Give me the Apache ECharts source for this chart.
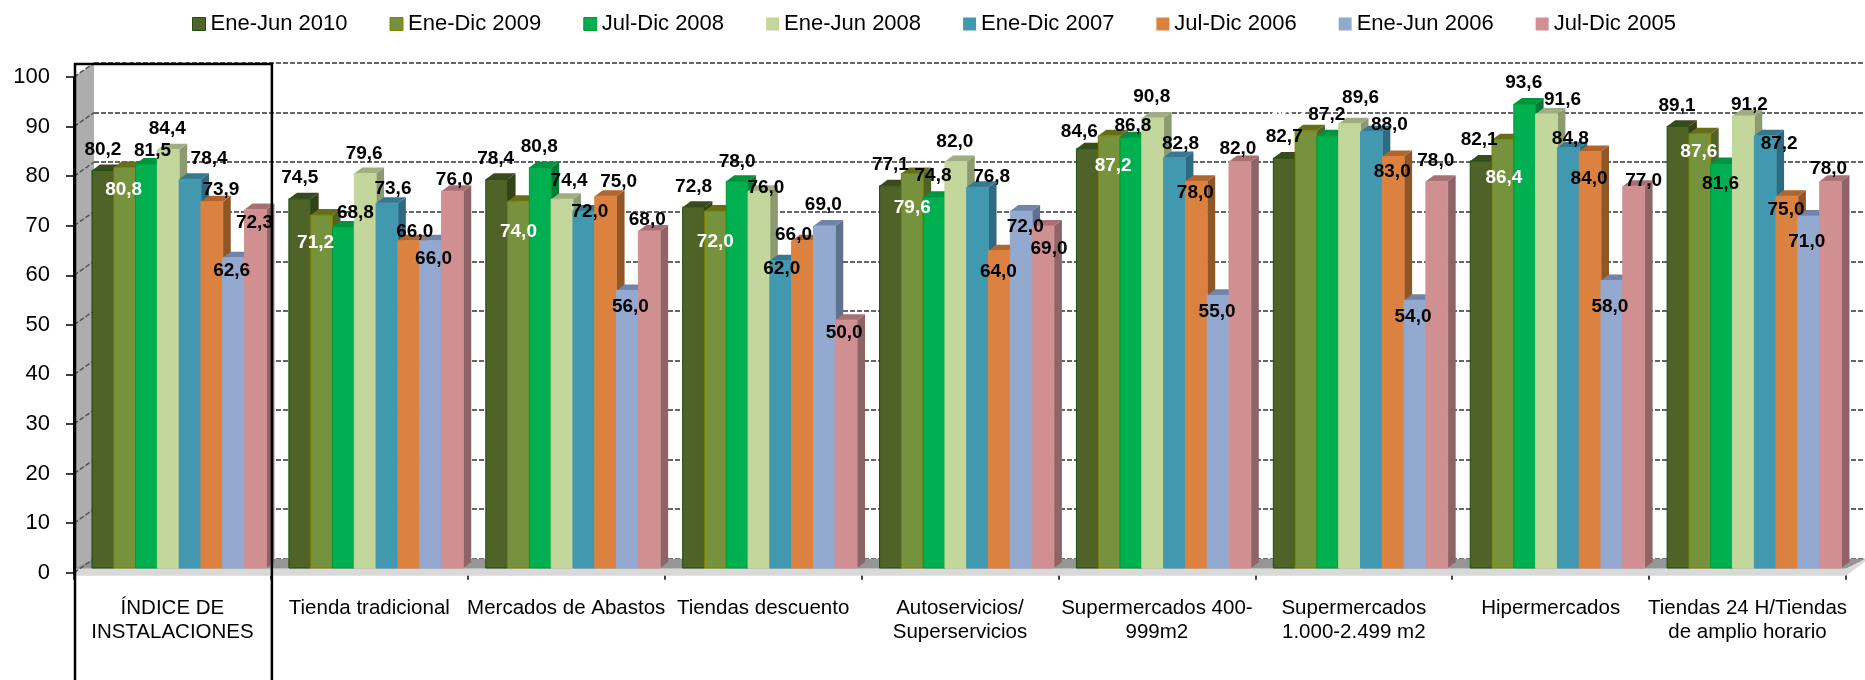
<!DOCTYPE html>
<html>
<head>
<meta charset="utf-8">
<title>Indice de instalaciones</title>
<script src="https://cdn.jsdelivr.net/npm/echarts@6/dist/echarts.min.js"></script>
<style>
  html, body { margin: 0; padding: 0; background: #fff; }
  #chart { width: 1865px; height: 680px; }
</style>
</head>
<body>
<div id="chart"></div>
<script>
const categories = [
  'ÍNDICE DE\nINSTALACIONES', 'Tienda tradicional', 'Mercados de Abastos', 'Tiendas descuento',
  'Autoservicios/\nSuperservicios', 'Supermercados 400-\n999m2', 'Supermercados\n1.000-2.499 m2',
  'Hipermercados', 'Tiendas 24 H/Tiendas\nde amplio horario'
]
const yTicks = [0, 10, 20, 30, 40, 50, 60, 70, 80, 90, 100]
const seriesNames = ['Ene-Jun 2010', 'Ene-Dic 2009', 'Jul-Dic 2008', 'Ene-Jun 2008', 'Ene-Dic 2007', 'Jul-Dic 2006', 'Ene-Jun 2006', 'Jul-Dic 2005']

const eneJun2010 = [80.2, 74.5, 78.4, 72.8, 77.1, 84.6, 82.7, 82.1, 89.1]
const eneDic2009 = [80.8, 71.2, 74.0, 72.0, 79.6, 87.2, 88.2, 86.4, 87.6]
const julDic2008 = [81.5, 68.8, 80.8, 78.0, 74.8, 86.8, 87.2, 93.6, 81.6]
const eneJun2008 = [84.4, 79.6, 74.4, 76.0, 82.0, 90.8, 89.6, 91.6, 91.2]
const eneDic2007 = [78.4, 73.6, 72.0, 62.0, 76.8, 82.8, 88.0, 84.8, 87.2]
const julDic2006 = [73.9, 66.0, 75.0, 66.0, 64.0, 78.0, 83.0, 84.0, 75.0]
const eneJun2006 = [62.6, 66.0, 56.0, 69.0, 72.0, 55.0, 54.0, 58.0, 71.0]
const julDic2005 = [72.3, 76.0, 68.0, 50.0, 69.0, 82.0, 78.0, 77.0, 78.0]
const allValues = [eneJun2010, eneDic2009, julDic2008, eneJun2008, eneDic2007, julDic2006, eneJun2006, julDic2005]

// estilo de cada serie: frente, lateral, tapa, borde
const fills = ['#4f6228', '#76923c', '#00b050', '#c3d69b', '#4198af', '#dc8240', '#93a9cf', '#d09092']
const sides = ['#34421a', '#4f6228', '#007a38', '#8b9a70', '#2f6a80', '#8f5628', '#5f7090', '#8f6467']
const tops = ['#3b4a1e', '#666f18', '#009440', '#a0ad82', '#35788f', '#b0652e', '#7184a8', '#a87074']
const borders = ['#1d4d0e', '#808000', '#009a30', '#c3d69b', '#4198af', '#dc8240', '#93a9cf', '#d09092']

// desplazamiento de cada etiqueta respecto al centro superior de su barra [dx, dy], por categoria
const labelShift = [
  [[0, -21], [-1, 22], [6, -13], [-1, -21], [19, -21], [9, -12], [-2, 13], [-1, 13]],
  [[0, -21], [-6, 28], [12, -14], [-1, -20], [6, -14], [6, -9], [3, 18], [2, -12]],
  [[-1, -21], [0, 31], [-1, -21], [7, -18], [6, 1], [13, -14], [3, 16], [-2, -11]],
  [[0, -20], [0, 31], [0, -20], [7, -4], [1, 8], [-9, -6], [-1, -21], [-2, 13]],
  [[0, -21], [0, 34], [-1, -21], [-1, -20], [14, -11], [-1, 21], [4, 16], [6, 23]],
  [[-8, -17], [4, 30], [2, -12], [-1, -21], [6, -14], [-1, 11], [-1, 16], [-2, -13]],
  [[0, -21], [-16, -18], [-1, -21], [11, -26], [18, -7], [-1, 15], [-2, 16], [-1, -21]],
  [[-2, -21], [1, 38], [-1, -21], [16, -14], [2, -9], [-1, 27], [-2, 26], [10, -6]],
  [[-1, -21], [-1, 18], [-1, 20], [6, -11], [14, 8], [-1, 14], [-2, 26], [-2, -13]]
]

const barFrac = 0.1107
const startFrac = -0.4086
const baseLift = 4.7
const depthX = 8
const depthY = 6

function barBox (api, cat, s, value) {
  const band = api.size([1, 0])[0]
  const top = api.coord([cat, value])
  const zero = api.coord([cat, 0])
  const w = band * barFrac
  const x0 = top[0] + band * startFrac + s * w
  return { x0: x0, x1: x0 + w, w: w, top: top[1] - baseLift, base: zero[1] - baseLift }
}

function barSeries (s) {
  return {
    name: seriesNames[s],
    type: 'custom',
    z: 3,
    xAxisIndex: 0,
    yAxisIndex: 0,
    itemStyle: { color: fills[s], borderColor: borders[s] },
    encode: { x: 0, y: 1 },
    data: allValues[s].map((v, i) => [i, v]),
    renderItem: function (params, api) {
      const b = barBox(api, api.value(0), s, api.value(1))
      return {
        type: 'group',
        children: [
          { type: 'polygon', shape: { points: [[b.x1, b.top], [b.x1 + depthX, b.top - depthY], [b.x1 + depthX, b.base - depthY], [b.x1, b.base]] }, style: { fill: sides[s] } },
          { type: 'polygon', shape: { points: [[b.x0, b.top], [b.x0 + depthX, b.top - depthY], [b.x1 + depthX, b.top - depthY], [b.x1, b.top]] }, style: { fill: tops[s] } },
          { type: 'rect', shape: { x: b.x0, y: b.top, width: b.w, height: b.base - b.top }, style: { fill: fills[s], stroke: borders[s], lineWidth: 1 } }
        ]
      }
    }
  }
}

// etiquetas aparte para que queden encima de todas las barras
const labelData = []
allValues.forEach((vals, s) => vals.forEach((v, c) => labelData.push([c, v, s])))

const labelSeries = {
  type: 'custom',
  z: 6,
  silent: true,
  xAxisIndex: 0,
  yAxisIndex: 0,
  encode: { x: 0, y: 1 },
  data: labelData,
  renderItem: function (params, api) {
    const c = api.value(0)
    const v = api.value(1)
    const s = api.value(2)
    const b = barBox(api, c, s, v)
    const shift = labelShift[c][s]
    return {
      type: 'text',
      style: {
        x: b.x0 + b.w / 2 + shift[0],
        y: b.top + shift[1],
        text: v.toFixed(1).replace('.', ','),
        font: 'bold 19px "Liberation Sans", Arial, sans-serif',
        fill: s === 1 ? '#ffffff' : '#000000',
        align: 'center',
        verticalAlign: 'middle'
      }
    }
  }
}

// pared izquierda, suelo y marcas diagonales
const shellSeries = {
  type: 'custom',
  z: 2,
  silent: true,
  xAxisIndex: 0,
  yAxisIndex: 0,
  data: [[0, 0]],
  renderItem: function (params, api) {
    const cs = params.coordSys
    const dx = 20
    const dy = 14
    const left = cs.x
    const right = cs.x + cs.width
    const bottom = cs.y + cs.height
    const children = [
      { type: 'polygon', shape: { points: [[left, cs.y], [left + dx, cs.y - dy], [left + dx, bottom - dy], [left, bottom]] }, style: { fill: '#adadad' } },
      { type: 'polygon', shape: { points: [[left + dx, bottom - dy], [right + dx, bottom - dy], [right, bottom - 4], [left, bottom - 4]] }, style: { fill: '#969696' } },
      { type: 'polygon', shape: { points: [[left, bottom - 4], [right, bottom - 4], [right + dx, bottom - dy], [right + dx, bottom - dy + 2], [right, bottom + 3], [left, bottom + 3]] }, style: { fill: '#d9d9d9' } }
    ]
    yTicks.forEach(function (t) {
      const y = api.coord([0, t])[1]
      children.push({ type: 'line', shape: { x1: left, y1: y, x2: left + dx, y2: y - dy }, style: { stroke: '#555', lineWidth: 1.5, lineDash: [5, 2] } })
    })
    return { type: 'group', children: children }
  }
}

// recuadro negro de la primera categoria
const boxSeries = {
  type: 'custom',
  z: 5,
  silent: true,
  xAxisIndex: 0,
  yAxisIndex: 0,
  data: [[0, 100]],
  renderItem: function (params, api) {
    const cs = params.coordSys
    const band = api.size([1, 0])[0]
    return {
      type: 'polyline',
      shape: { points: [[cs.x + 1, 690], [cs.x + 1, cs.y - 13], [cs.x + band + 1, cs.y - 13], [cs.x + band + 1, 690]] },
      style: { stroke: '#000', lineWidth: 2.5, fill: 'none' }
    }
  }
}

const myChart = echarts.init(document.getElementById('chart'))
const option = {
  animation: false,
  backgroundColor: '#fff',
  textStyle: { fontFamily: '"Liberation Sans", Arial, sans-serif' },
  legend: {
    data: seriesNames.map((n, i) => ({ name: n, icon: 'rect', itemStyle: { color: fills[i], borderColor: borders[i], borderWidth: i < 3 ? 1 : 0 } })),
    left: 187,
    top: 8,
    itemWidth: 13,
    itemHeight: 13,
    itemGap: 42,
    selectedMode: false,
    textStyle: { fontSize: 22, color: '#000' }
  },
  grid: [
    { left: 74, top: 77, width: 1772, height: 495.7 },
    { left: 94, top: 63, width: 1772, height: 495.7 }
  ],
  xAxis: [
    {
      type: 'category',
      gridIndex: 0,
      data: categories,
      axisLine: { show: false },
      axisTick: { show: true, alignWithLabel: false, length: 7, lineStyle: { color: '#000', width: 1.5 } },
      axisLabel: { interval: 0, margin: 24, fontSize: 20.5, lineHeight: 24, color: '#000' }
    },
    { type: 'category', gridIndex: 1, data: categories, show: false }
  ],
  yAxis: [
    {
      type: 'value',
      gridIndex: 0,
      min: 0,
      max: 100,
      interval: 10,
      axisLine: { show: true, lineStyle: { color: '#000', width: 2 } },
      axisTick: { show: true, length: 8, lineStyle: { color: '#000', width: 1.5 } },
      axisLabel: { fontSize: 22, color: '#000', margin: 24, padding: [4, 0, 0, 0] },
      splitLine: { show: false }
    },
    {
      type: 'value',
      gridIndex: 1,
      min: 0,
      max: 100,
      interval: 10,
      axisLine: { show: false },
      axisTick: { show: false },
      axisLabel: { show: false },
      splitLine: { show: true, lineStyle: { color: '#666', width: 2, type: [5, 2] } }
    }
  ],
  series: [shellSeries].concat(allValues.map((v, s) => barSeries(s)), [boxSeries, labelSeries])
}
myChart.setOption(option)
</script>
</body>
</html>
